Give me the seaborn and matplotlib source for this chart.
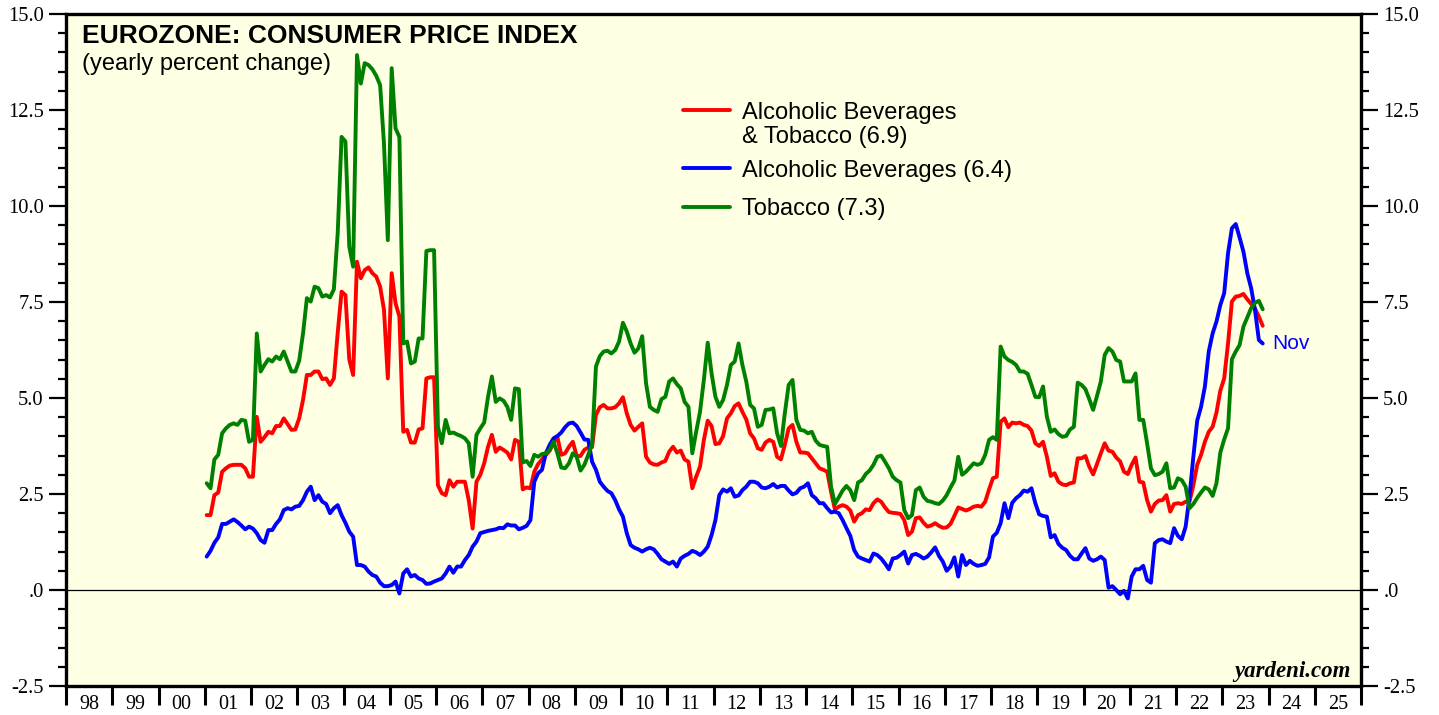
import numpy as np
import pandas as pd
import matplotlib
matplotlib.use("Agg")
import matplotlib.pyplot as plt
from matplotlib.lines import Line2D
from matplotlib.ticker import MultipleLocator, FixedLocator, FixedFormatter, NullFormatter
import seaborn as sns

# ── Data: yearly % change, monthly Jan 2001 - Nov 2023 ─────────────────
alcohol_tobacco = [
    1.95, 1.95, 2.47, 2.54, 3.08, 3.17, 3.24, 3.26, 3.26, 3.26, 3.17, 2.95,  # 2001
    2.95, 4.51, 3.86, 3.98, 4.12, 4.08, 4.27, 4.27, 4.47, 4.32, 4.17, 4.18,  # 2002
    4.47, 4.95, 5.60, 5.60, 5.69, 5.69, 5.49, 5.51, 5.34, 5.51, 6.70, 7.77,  # 2003
    7.68, 6.00, 5.60, 8.55, 8.12, 8.33, 8.40, 8.25, 8.16, 7.90, 7.30, 5.51,  # 2004
    8.25, 7.47, 7.12, 4.12, 4.17, 3.84, 3.84, 4.18, 4.21, 5.51, 5.54, 5.54,  # 2005
    2.73, 2.52, 2.47, 2.86, 2.69, 2.82, 2.82, 2.82, 2.34, 1.60, 2.82, 3.00,  # 2006
    3.30, 3.73, 4.04, 3.60, 3.71, 3.65, 3.58, 3.40, 3.91, 3.86, 2.62, 2.67,  # 2007
    2.65, 3.08, 3.28, 3.40, 3.52, 3.63, 3.84, 3.98, 3.52, 3.56, 3.73, 3.86,  # 2008
    3.49, 3.49, 3.65, 3.71, 3.72, 4.56, 4.76, 4.82, 4.73, 4.73, 4.76, 4.86,  # 2009
    5.02, 4.60, 4.30, 4.15, 4.25, 4.34, 3.47, 3.32, 3.27, 3.26, 3.32, 3.36,  # 2010
    3.60, 3.73, 3.58, 3.63, 3.40, 3.34, 2.65, 2.95, 3.21, 3.91, 4.41, 4.27,  # 2011
    3.80, 3.82, 4.01, 4.47, 4.60, 4.79, 4.86, 4.64, 4.44, 4.08, 3.95, 3.69,  # 2012
    3.65, 3.84, 3.91, 3.86, 3.47, 3.40, 3.78, 4.21, 4.30, 3.86, 3.58, 3.58,  # 2013
    3.56, 3.43, 3.30, 3.17, 3.13, 3.08, 2.56, 2.10, 2.17, 2.21, 2.17, 2.07,  # 2014
    1.78, 1.95, 2.00, 2.10, 2.08, 2.26, 2.36, 2.30, 2.15, 2.03, 2.01, 2.00,  # 2015
    1.98, 1.82, 1.43, 1.52, 1.87, 1.89, 1.75, 1.65, 1.68, 1.74, 1.67, 1.62,  # 2016
    1.63, 1.72, 1.93, 2.15, 2.11, 2.07, 2.11, 2.17, 2.19, 2.17, 2.30, 2.62,  # 2017
    2.91, 2.95, 4.38, 4.47, 4.24, 4.36, 4.34, 4.36, 4.30, 4.27, 4.15, 3.82,  # 2018
    3.75, 3.86, 3.47, 2.97, 3.04, 2.82, 2.75, 2.73, 2.78, 2.80, 3.43, 3.43,  # 2019
    3.49, 3.21, 3.01, 3.28, 3.56, 3.82, 3.63, 3.60, 3.45, 3.35, 3.08, 3.02,  # 2020
    3.26, 3.45, 2.82, 2.80, 2.34, 2.04, 2.24, 2.33, 2.34, 2.47, 2.04, 2.24,  # 2021
    2.26, 2.24, 2.30, 2.30, 2.73, 3.26, 3.52, 3.86, 4.12, 4.25, 4.62, 5.19,  # 2022
    5.51, 6.42, 7.51, 7.64, 7.66, 7.71, 7.57, 7.45, 7.33, 7.12, 6.88,        # 2023
]

alcoholic_beverages = [
    0.87, 1.02, 1.23, 1.37, 1.72, 1.72, 1.78, 1.84, 1.77, 1.68, 1.58, 1.65,  # 2001
    1.60, 1.48, 1.30, 1.23, 1.56, 1.56, 1.72, 1.84, 2.08, 2.13, 2.10, 2.17,  # 2002
    2.19, 2.34, 2.56, 2.69, 2.34, 2.47, 2.30, 2.24, 2.00, 2.13, 2.21, 1.95,  # 2003
    1.75, 1.52, 1.39, 0.65, 0.65, 0.61, 0.48, 0.39, 0.35, 0.19, 0.10, 0.10,  # 2004
    0.13, 0.22, -0.09, 0.43, 0.54, 0.35, 0.39, 0.30, 0.26, 0.16, 0.17, 0.22, # 2005
    0.26, 0.30, 0.43, 0.61, 0.45, 0.61, 0.61, 0.78, 0.91, 1.13, 1.26, 1.48,  # 2006
    1.51, 1.54, 1.56, 1.58, 1.62, 1.61, 1.71, 1.68, 1.68, 1.58, 1.62, 1.67,  # 2007
    1.82, 2.82, 3.04, 3.13, 3.56, 3.78, 3.95, 4.01, 4.10, 4.24, 4.34, 4.36,  # 2008
    4.27, 4.10, 3.92, 3.91, 3.34, 3.13, 2.82, 2.69, 2.58, 2.52, 2.34, 2.10,  # 2009
    1.91, 1.48, 1.17, 1.10, 1.06, 1.00, 1.06, 1.10, 1.06, 0.94, 0.80, 0.74,  # 2010
    0.68, 0.74, 0.61, 0.82, 0.89, 0.94, 1.02, 0.98, 0.91, 1.00, 1.13, 1.43,  # 2011
    1.82, 2.47, 2.62, 2.56, 2.65, 2.43, 2.46, 2.60, 2.69, 2.82, 2.82, 2.78,  # 2012
    2.67, 2.65, 2.69, 2.76, 2.67, 2.71, 2.71, 2.59, 2.49, 2.53, 2.65, 2.69,  # 2013
    2.78, 2.47, 2.39, 2.26, 2.26, 2.13, 2.02, 2.04, 2.00, 1.82, 1.61, 1.41,  # 2014
    1.04, 0.87, 0.82, 0.78, 0.74, 0.95, 0.91, 0.82, 0.69, 0.54, 0.82, 0.84,  # 2015
    0.91, 1.00, 0.69, 0.91, 0.94, 0.89, 0.82, 0.87, 0.98, 1.11, 0.89, 0.74,  # 2016
    0.50, 0.61, 0.85, 0.35, 0.91, 0.65, 0.76, 0.68, 0.63, 0.65, 0.68, 0.85,  # 2017
    1.39, 1.49, 1.74, 2.26, 1.87, 2.27, 2.39, 2.47, 2.59, 2.56, 2.65, 2.26,  # 2018
    1.97, 1.93, 1.91, 1.37, 1.43, 1.20, 1.10, 1.04, 0.89, 0.80, 0.80, 0.95,  # 2019
    1.09, 0.82, 0.76, 0.80, 0.87, 0.78, 0.06, 0.10, 0.00, -0.11, -0.02, -0.22,  # 2020
    0.35, 0.54, 0.54, 0.63, 0.26, 0.19, 1.22, 1.30, 1.32, 1.26, 1.22, 1.61,  # 2021
    1.41, 1.32, 1.65, 2.43, 3.47, 4.41, 4.77, 5.30, 6.21, 6.68, 6.99, 7.42,  # 2022
    7.73, 8.77, 9.42, 9.53, 9.18, 8.81, 8.25, 7.86, 7.29, 6.51, 6.42,        # 2023
]

tobacco = [
    2.78, 2.65, 3.40, 3.52, 4.08, 4.21, 4.30, 4.34, 4.30, 4.43, 4.41, 3.86,  # 2001
    3.91, 6.68, 5.69, 5.86, 6.01, 5.95, 6.08, 6.01, 6.21, 5.95, 5.69, 5.69,  # 2002
    5.97, 6.68, 7.60, 7.51, 7.90, 7.86, 7.64, 7.68, 7.62, 7.83, 9.30, 11.80,  # 2003
    11.68, 8.94, 8.42, 13.93, 13.19, 13.72, 13.67, 13.56, 13.39, 13.15, 11.63, 9.11,  # 2004
    13.59, 12.02, 11.80, 6.42, 6.47, 5.90, 5.95, 6.55, 6.55, 8.83, 8.85, 8.85,  # 2005
    4.25, 3.82, 4.43, 4.08, 4.10, 4.05, 4.01, 3.95, 3.82, 2.95, 4.04, 4.21,  # 2006
    4.36, 5.03, 5.56, 4.90, 4.99, 4.93, 4.77, 4.43, 5.25, 5.23, 3.32, 3.36,  # 2007
    3.23, 3.52, 3.47, 3.54, 3.56, 3.65, 3.86, 3.56, 3.19, 3.17, 3.30, 3.56,  # 2008
    3.47, 3.11, 3.26, 3.52, 3.80, 5.82, 6.09, 6.21, 6.23, 6.16, 6.25, 6.47,  # 2009
    6.96, 6.73, 6.42, 6.18, 6.29, 6.61, 5.38, 4.77, 4.69, 4.64, 4.97, 5.03,  # 2010
    5.43, 5.51, 5.36, 5.25, 4.90, 4.77, 3.56, 4.12, 4.64, 5.47, 6.44, 5.64,  # 2011
    5.03, 4.77, 4.95, 5.34, 5.86, 5.95, 6.42, 5.86, 5.43, 4.82, 4.73, 4.25,  # 2012
    4.30, 4.69, 4.70, 4.73, 4.08, 3.75, 4.60, 5.34, 5.47, 4.43, 4.17, 4.15,  # 2013
    4.08, 4.12, 3.89, 3.78, 3.75, 3.73, 2.69, 2.24, 2.41, 2.59, 2.71, 2.60,  # 2014
    2.34, 2.80, 2.86, 3.02, 3.11, 3.26, 3.47, 3.50, 3.34, 3.17, 2.95, 2.86,  # 2015
    2.80, 2.08, 1.87, 1.95, 2.60, 2.67, 2.43, 2.32, 2.30, 2.26, 2.24, 2.33,  # 2016
    2.47, 2.67, 2.85, 3.47, 3.00, 3.08, 3.19, 3.30, 3.26, 3.30, 3.52, 3.91,  # 2017
    3.98, 3.91, 6.34, 6.08, 5.99, 5.94, 5.86, 5.69, 5.69, 5.63, 5.34, 5.03,  # 2018
    5.02, 5.30, 4.51, 4.12, 4.18, 4.06, 3.99, 4.01, 4.18, 4.25, 5.40, 5.34,  # 2019
    5.23, 4.97, 4.69, 5.05, 5.43, 6.12, 6.30, 6.21, 5.99, 5.95, 5.43, 5.43,  # 2020
    5.43, 5.64, 4.43, 4.43, 3.82, 3.17, 2.99, 3.02, 3.08, 3.30, 2.65, 2.67,  # 2021
    2.91, 2.86, 2.69, 2.13, 2.24, 2.40, 2.54, 2.67, 2.62, 2.45, 2.78, 3.58,  # 2022
    3.92, 4.21, 6.01, 6.21, 6.38, 6.86, 7.10, 7.34, 7.48, 7.53, 7.31,        # 2023
]

series_names = ["Alcoholic Beverages\n& Tobacco (6.9)", "Alcoholic Beverages (6.4)", "Tobacco (7.3)"]
series_colors = ["#FF0000", "#0000FF", "#008000"]

year_ticks = list(range(1998, 2027))
year_labels = ["98", "99", "00", "01", "02", "03", "04", "05", "06", "07", "08", "09", "10", "11",
               "12", "13", "14", "15", "16", "17", "18", "19", "20", "21", "22", "23", "24", "25"]
y_ticks = [-2.5, 0.0, 2.5, 5.0, 7.5, 10.0, 12.5, 15.0]
y_labels = ["-2.5", ".0", "2.5", "5.0", "7.5", "10.0", "12.5", "15.0"]

# ── Mise en forme des données ──────────────────────────────────────────
months = pd.date_range("2001-01-01", periods=len(alcohol_tobacco), freq="MS")
t = months.year + (months.month - 0.5) / 12.0

df = pd.DataFrame({
    "t": np.tile(t, 3),
    "value": alcohol_tobacco + alcoholic_beverages + tobacco,
    "series": np.repeat(series_names, len(t)),
})

# ── Style ───────────────────────────────────────────────────────────────
sns.set_style("ticks")
plt.rcParams["font.family"] = ["Liberation Serif", "DejaVu Serif"]
plt.rcParams["text.color"] = "black"
plt.rcParams["xtick.color"] = "black"
plt.rcParams["ytick.color"] = "black"
SANS = ["Liberation Sans", "DejaVu Sans"]
LW = 2.8

W, H = 1439, 715
def fx(x):
    return x / W
def fy(y):
    return 1 - y / H

fig = plt.figure(figsize=(W / 100, H / 100), dpi=100)
ax = fig.add_axes([fx(66), fy(686), (1361 - 66) / W, (686 - 14) / H])
ax.set_facecolor("#FFFFE3")

sns.lineplot(data=df, x="t", y="value", hue="series", hue_order=series_names,
             palette=series_colors, linewidth=LW, estimator=None, sort=False,
             legend=False, ax=ax)
ax.axhline(0, color="black", lw=0.9, zorder=1)

# Axes
ax.set_xlim(year_ticks[0], year_ticks[-1])
ax.set_ylim(y_ticks[0], y_ticks[-1])
ax.set_xlabel("")
ax.set_ylabel("")
for side in ["left", "right", "top", "bottom"]:
    ax.spines[side].set_visible(True)
    ax.spines[side].set_linewidth(2.4)
    ax.spines[side].set_color("black")

ax.xaxis.set_major_locator(FixedLocator(year_ticks))
ax.xaxis.set_major_formatter(NullFormatter())
ax.xaxis.set_minor_locator(FixedLocator([y + 0.5 for y in year_ticks[:-1]]))
ax.xaxis.set_minor_formatter(FixedFormatter(year_labels))
ax.tick_params(axis="x", which="major", direction="out", length=13.5, width=2.2)
ax.tick_params(axis="x", which="minor", length=0, pad=6.5, labelsize=14.5, labelcolor="black")

ax.set_yticks(y_ticks)
ax.set_yticklabels(y_labels)
ax.yaxis.set_minor_locator(MultipleLocator(0.5))
ax.tick_params(axis="y", which="both", direction="out", left=True, right=True,
               labelleft=True, labelright=True, width=1.6)
ax.tick_params(axis="y", which="major", length=12, pad=4, labelsize=14.8, labelcolor="black")
ax.tick_params(axis="y", which="minor", length=6)
ax.grid(False)

# Titre
fig.text(fx(82), fy(43), "EUROZONE: CONSUMER PRICE INDEX", family=SANS,
         fontsize=19, fontweight="bold", va="baseline", ha="left", color="black")
fig.text(fx(82), fy(70), "(yearly percent change)", family=SANS,
         fontsize=17, va="baseline", ha="left", color="black")

# Légende manuelle
legend_rows = [(110, 118.5), (168, 176.5), (207, 215.5)]
for (ly, base), name, col in zip(legend_rows, series_names, series_colors):
    fig.add_artist(Line2D([fx(683), fx(730)], [fy(ly), fy(ly)], color=col, lw=LW))
    for k, txt in enumerate(name.split("\n")):
        fig.text(fx(742), fy(base + 24 * k), txt, family=SANS, fontsize=17,
                 va="baseline", ha="left", color="black")

# Dernier point
ax.annotate("Nov", xy=(t[-1], alcoholic_beverages[-1]), xytext=(7, 0),
            textcoords="offset points", color="#0000FF", fontsize=15,
            family=SANS, va="center", ha="left")

fig.text(fx(1351), fy(677), "yardeni.com", family=["Liberation Serif", "DejaVu Serif"],
         fontsize=16.5, fontweight="bold", style="italic", va="baseline", ha="right",
         color="black")

fig.savefig("out.png", dpi=100)
